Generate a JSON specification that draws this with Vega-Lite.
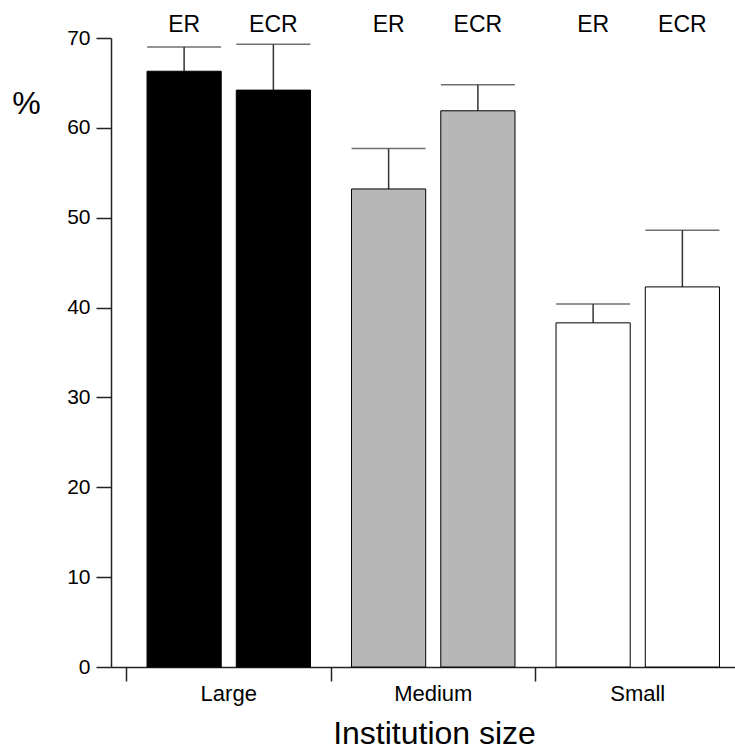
{
  "$schema": "https://vega.github.io/schema/vega-lite/v6.json",
  "autosize": {"type": "none"},
  "padding": {"left": 111, "top": 38, "right": 0, "bottom": 83},
  "width": 629,
  "height": 629,
  "background": "white",
  "config": {
    "view": {"stroke": null},
    "font": "Liberation Sans",
    "axis": {"grid": false, "domainColor": "#222", "tickColor": "#222", "labelColor": "black", "titleColor": "black", "domainWidth": 1.5, "tickWidth": 1.5, "titleFontWeight": "normal"}
  },
  "data": {
    "values": [
      {"size": "Large", "group": "ER", "value": 66.3, "upper": 69.0},
      {"size": "Large", "group": "ECR", "value": 64.2, "upper": 69.3},
      {"size": "Medium", "group": "ER", "value": 53.2, "upper": 57.7},
      {"size": "Medium", "group": "ECR", "value": 61.9, "upper": 64.8},
      {"size": "Small", "group": "ER", "value": 38.3, "upper": 40.4},
      {"size": "Small", "group": "ECR", "value": 42.3, "upper": 48.6}
    ]
  },
  "encoding": {
    "x": {
      "field": "size", "type": "nominal", "sort": ["Large", "Medium", "Small"],
      "scale": {"paddingInner": 0, "paddingOuter": 0.0379, "align": 1},
      "axis": {
        "title": "Institution size", "titleFontSize": 32, "titleX": 323, "titleY": 76, "titleBaseline": "alphabetic",
        "labelAngle": 0, "labelFontSize": 22, "labelPadding": 2, "tickSize": 14,
        "bandPosition": 0
      }
    },
    "xOffset": {
      "field": "group", "type": "nominal", "sort": ["ER", "ECR"],
      "scale": {"paddingInner": 0.169, "paddingOuter": 0.23}
    },
    "y": {
      "field": "value", "type": "quantitative",
      "scale": {"domain": [0, 70], "nice": false},
      "axis": {
        "values": [0, 10, 20, 30, 40, 50, 60, 70],
        "title": "%", "titleAngle": 0, "titleX": -85, "titleY": 65, "titleAlign": "center", "titleBaseline": "middle", "titleFontSize": 32,
        "labelFontSize": 21, "labelPadding": 6, "tickSize": 15
      }
    }
  },
  "layer": [
    {
      "mark": {"type": "rule", "color": "#333", "strokeWidth": 1.5},
      "encoding": {
        "y2": {"field": "upper"}
      }
    },
    {
      "mark": {"type": "tick", "color": "#333", "thickness": 1.5, "size": 74, "orient": "horizontal"},
      "encoding": {
        "y": {"field": "upper", "type": "quantitative"}
      }
    },
    {
      "mark": {"type": "bar", "stroke": "black", "strokeWidth": 1},
      "encoding": {
        "fill": {
          "field": "size", "type": "nominal",
          "scale": {"domain": ["Large", "Medium", "Small"], "range": ["black", "#b7b7b7", "white"]},
          "legend": null
        }
      }
    },
    {
      "mark": {"type": "text", "fontSize": 23, "baseline": "middle", "align": "center", "color": "black"},
      "encoding": {
        "y": {"datum": 71.45, "type": "quantitative"},
        "text": {"field": "group"}
      }
    }
  ]
}
